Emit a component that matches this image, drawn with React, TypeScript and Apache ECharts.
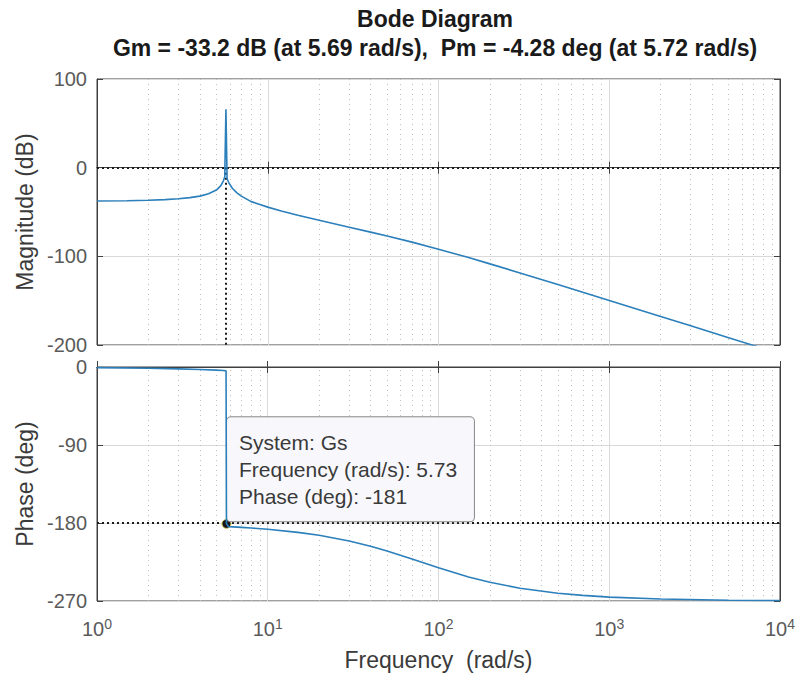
import React, { useEffect, useRef } from "react";
import * as echarts from "echarts";

const magFreq = [1, 1.5, 2, 2.5, 3, 3.5, 4, 4.5, 5, 5.3, 5.5, 5.6, 5.69, 5.78, 5.9, 6.2, 6.6, 7, 8, 9, 10, 12, 15, 20, 30, 40, 50, 70, 100, 150, 200, 300, 500, 700, 1000, 2000, 3000, 5000, 7000, 10000];
const magDb = [-37.6, -37.3, -36.7, -36.0, -35.0, -33.8, -32.1, -29.4, -25.3, -20.6, -14.8, -10.2, 65.8, -12.5, -16.5, -23.2, -28.5, -32.1, -38.3, -41.5, -44.5, -48.8, -53.6, -59.4, -67.1, -72.7, -77.1, -84.0, -91.9, -101.4, -108.5, -118.7, -131.8, -140.6, -149.9, -167.9, -178.4, -191.7, -200.5, -209.8];

const phaseFreq = [1, 2, 3, 4, 5, 5.5, 5.7, 5.73, 5.9, 7, 8, 10, 15, 20, 30, 40, 50, 70, 100, 150, 200, 300, 500, 700, 1000, 2000, 5000, 10000];
const phaseDeg = [-0.7, -1.5, -2.2, -2.9, -3.6, -4.0, -4.5, -181, -184.2, -185.1, -185.8, -187.2, -190.8, -194.2, -200.8, -206.8, -212.3, -221.5, -231.7, -242.2, -248.4, -255.2, -261.0, -263.5, -265.5, -267.7, -269.1, -269.5];

const minorFreqs = [2, 3, 4, 5, 6, 7, 8, 9, 20, 30, 40, 50, 60, 70, 80, 90, 200, 300, 400, 500, 600, 700, 800, 900, 2000, 3000, 4000, 5000, 6000, 7000, 8000, 9000];

const magTicks = [-200, -100, 0, 100];
const phaseTicks = [-270, -180, -90, 0];

const gmFreq = 5.69;
const tipFreq = 5.73;
const tipPhase = -181;
const tipLines = ["System: Gs", "Frequency (rad/s): 5.73", "Phase (deg): -181"];

const titleText = "Bode Diagram";
const subtitleText = "Gm = -33.2 dB (at 5.69 rad/s),  Pm = -4.28 deg (at 5.72 rad/s)";

const FONT = "Liberation Sans, Arial, Helvetica, sans-serif";
const LABEL_COLOR = "#5a5a5a";
const NAME_COLOR = "#3a3a3a";
const AXIS_COLOR = "#404040";
const LINE_COLOR = "#2b7fbb";

export default function App() {
  const ref = useRef<HTMLDivElement>(null);
  useEffect(() => {
    if (!ref.current) return;
    const chart = echarts.init(ref.current, undefined, { renderer: "svg" });

    const xCommon = (gridIndex: number, showLabels: boolean) => ({
      type: "log" as const,
      logBase: 10,
      min: 1,
      max: 10000,
      gridIndex,
      axisLine: { show: true, lineStyle: { color: AXIS_COLOR, width: 1 } },
      axisTick: { show: true, inside: true, length: 6, lineStyle: { color: AXIS_COLOR } },
      splitLine: { show: true, lineStyle: { color: "#d9d9d9", width: 1 } },
      axisLabel: showLabels
        ? {
            show: true,
            margin: 16,
            fontFamily: FONT,
            formatter: (v: number) => `{b|10}{s|${Math.round(Math.log10(v))}}`,
            rich: {
              b: { fontSize: 20, color: LABEL_COLOR, fontFamily: FONT },
              s: { fontSize: 14, color: LABEL_COLOR, fontFamily: FONT, padding: [0, 0, 10, 0] },
            },
          }
        : { show: false },
      name: showLabels ? "Frequency  (rad/s)" : "",
      nameLocation: "middle" as const,
      nameGap: 47,
      nameTextStyle: { fontFamily: FONT, fontSize: 23, color: NAME_COLOR },
    });

    const xTop = (gridIndex: number) => ({
      type: "log" as const,
      logBase: 10,
      min: 1,
      max: 10000,
      gridIndex,
      position: "top" as const,
      axisLine: { show: true, lineStyle: { color: AXIS_COLOR, width: 1 } },
      axisTick: { show: true, inside: true, length: 6, lineStyle: { color: AXIS_COLOR } },
      splitLine: { show: false },
      axisLabel: { show: false },
    });

    const yRight = (gridIndex: number, min: number, max: number, interval: number) => ({
      type: "value" as const,
      gridIndex,
      min,
      max,
      interval,
      position: "right" as const,
      axisLine: { show: true, lineStyle: { color: AXIS_COLOR } },
      axisTick: { show: true, inside: true, length: 6, lineStyle: { color: AXIS_COLOR } },
      splitLine: { show: false },
      axisLabel: { show: false },
    });

    const minorLine = (gridIdx: number) => ({
      type: "line" as const,
      xAxisIndex: gridIdx,
      yAxisIndex: gridIdx,
      data: [],
      z: 1,
      silent: true,
      markLine: {
        silent: true,
        symbol: ["none", "none"],
        label: { show: false },
        lineStyle: { color: "#bdbdbd", type: [1, 4], width: 1 },
        data: minorFreqs.map((f) => ({ xAxis: f })),
      },
    });

    const refLineStyle = { color: "#1a1a1a", type: [2, 3] as any, width: 2 };

    chart.setOption({
      animation: false,
      backgroundColor: "#ffffff",
      title: [
        {
          text: titleText,
          left: 430,
          top: 2,
          textAlign: "center",
          textStyle: { fontFamily: FONT, fontSize: 23, fontWeight: "bold", color: "#1a1a1a" },
        },
        {
          text: subtitleText,
          left: 430,
          top: 31,
          textAlign: "center",
          textStyle: { fontFamily: FONT, fontSize: 23, fontWeight: "bold", color: "#1a1a1a" },
        },
      ],
      grid: [
        { left: 97, top: 79, width: 683, height: 266, show: true, borderColor: AXIS_COLOR, borderWidth: 1, backgroundColor: "#fff" },
        { left: 97, top: 367, width: 683, height: 234, show: true, borderColor: AXIS_COLOR, borderWidth: 1, backgroundColor: "#fff" },
      ],
      xAxis: [xCommon(0, false), xCommon(1, true), xTop(0), xTop(1)],
      yAxis: [
        {
          type: "value",
          gridIndex: 0,
          min: magTicks[0],
          max: magTicks[magTicks.length - 1],
          interval: 100,
          axisLine: { show: true, lineStyle: { color: AXIS_COLOR } },
          axisTick: { show: true, inside: true, length: 6, lineStyle: { color: AXIS_COLOR } },
          splitLine: { show: true, lineStyle: { color: "#d9d9d9" } },
          axisLabel: { fontFamily: FONT, fontSize: 20, color: LABEL_COLOR, margin: 10 },
          name: "Magnitude (dB)",
          nameLocation: "middle",
          nameGap: 57,
          nameRotate: 90,
          nameTextStyle: { fontFamily: FONT, fontSize: 23, color: NAME_COLOR },
        },
        {
          type: "value",
          gridIndex: 1,
          min: phaseTicks[0],
          max: phaseTicks[phaseTicks.length - 1],
          interval: 90,
          axisLine: { show: true, lineStyle: { color: AXIS_COLOR } },
          axisTick: { show: true, inside: true, length: 6, lineStyle: { color: AXIS_COLOR } },
          splitLine: { show: true, lineStyle: { color: "#d9d9d9" } },
          axisLabel: { fontFamily: FONT, fontSize: 20, color: LABEL_COLOR, margin: 10 },
          name: "Phase (deg)",
          nameLocation: "middle",
          nameGap: 57,
          nameRotate: 90,
          nameTextStyle: { fontFamily: FONT, fontSize: 23, color: NAME_COLOR },
        },
        yRight(0, magTicks[0], magTicks[magTicks.length - 1], 100),
        yRight(1, phaseTicks[0], phaseTicks[phaseTicks.length - 1], 90),
      ],
      series: [
        minorLine(0),
        minorLine(1),
        {
          type: "line",
          name: "Magnitude",
          xAxisIndex: 0,
          yAxisIndex: 0,
          data: magFreq.map((f, i) => [f, magDb[i]]),
          showSymbol: false,
          symbol: "none",
          z: 5,
          lineStyle: { color: LINE_COLOR, width: 1.6 },
          markLine: {
            silent: true,
            symbol: ["none", "none"],
            label: { show: false },
            lineStyle: refLineStyle,
            data: [
              { yAxis: 0 },
              [
                { coord: [gmFreq, 0] },
                { coord: [gmFreq, magTicks[0]] },
              ],
            ],
          },
        },
        {
          type: "line",
          name: "Phase",
          xAxisIndex: 1,
          yAxisIndex: 1,
          data: phaseFreq.map((f, i) => [f, phaseDeg[i]]),
          showSymbol: false,
          symbol: "none",
          z: 5,
          lineStyle: { color: LINE_COLOR, width: 1.6 },
          markLine: {
            silent: true,
            symbol: ["none", "none"],
            label: { show: false },
            lineStyle: refLineStyle,
            data: [{ yAxis: -180 }],
          },
          markPoint: {
            silent: true,
            symbol: "circle",
            symbolSize: 9,
            itemStyle: { color: "#151515", borderColor: "#d9cf6a", borderWidth: 1 },
            label: {
              show: true,
              position: [5.5, -101.5],
              align: "left",
              verticalAlign: "top",
              formatter: tipLines.join("\n"),
              fontFamily: FONT,
              fontSize: 21,
              lineHeight: 27,
              color: "#3a3a3a",
              backgroundColor: "rgba(248,248,252,0.97)",
              borderColor: "#8a8a8a",
              borderWidth: 1,
              borderRadius: 4,
              padding: [12, 12, 11, 12],
              width: 223,
            },
            data: [{ coord: [tipFreq, tipPhase] }],
          },
        },
      ],
    });
    return () => chart.dispose();
  }, []);
  return <div ref={ref} style={{ position: "fixed", left: 0, top: 0, width: 798, height: 673 }} />;
}
